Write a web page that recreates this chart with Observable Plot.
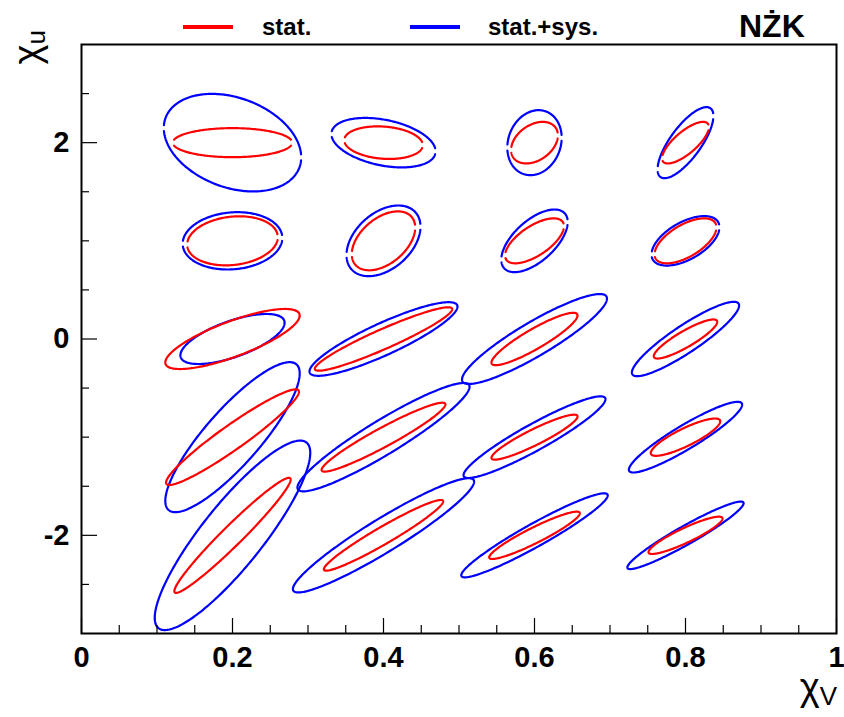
<!DOCTYPE html>
<html><head><meta charset="utf-8">
<script src="https://cdn.jsdelivr.net/npm/d3@7"></script>
<script src="https://cdn.jsdelivr.net/npm/@observablehq/plot@0.6"></script>
<style>
body{margin:0;background:#fff}
#chart{position:relative;width:844px;height:717px}
</style>
</head><body><div id="chart"></div>
<script>
// ---- data ----
const colX = [0.2, 0.4, 0.6, 0.8];          // ellipse centres, chi_V
const rowY = [2, 1, 0, -1, -2];             // ellipse centres, chi_u
// 20 ellipses, rows top->bottom, columns left->right
const statSx  = [0.079,0.052,0.031,0.031, 0.060,0.042,0.039,0.041, 0.089,0.091,0.057,0.042, 0.088,0.082,0.057,0.046, 0.077,0.079,0.060,0.049];
const statSy  = [0.148,0.166,0.212,0.212, 0.250,0.300,0.229,0.229, 0.306,0.323,0.267,0.199, 0.487,0.351,0.229,0.190, 0.586,0.360,0.241,0.190];
const statRho = [0.00,-0.15,0.35,0.75, 0.15,0.45,0.65,0.60, 0.78,0.94,0.90,0.88, 0.95,0.95,0.92,0.85, 0.97,0.96,0.93,0.90];
const sysSx   = [0.091,0.069,0.036,0.037, 0.066,0.049,0.044,0.045, 0.069,0.098,0.096,0.071, 0.089,0.114,0.094,0.075, 0.103,0.120,0.097,0.077];
const sysSy   = [0.497,0.252,0.331,0.362, 0.292,0.360,0.319,0.252, 0.255,0.375,0.458,0.379, 0.764,0.552,0.416,0.360, 0.965,0.582,0.428,0.344];
const sysRho  = [-0.30,-0.35,0.15,0.75, 0.10,0.40,0.60,0.55, 0.65,0.88,0.90,0.90, 0.85,0.93,0.93,0.92, 0.87,0.94,0.95,0.95];
// small breaks in the drawn contour at its left/right ends (1 = broken outline)
const contourBreaks = [1,1,1,1, 1,1,1,1, 0,0,0,0, 0,0,0,0, 0,0,0,0];
const seriesNames = ["stat.", "stat.+sys."];
const seriesColors = ["#ff0000", "#0000ff"];
const xMajorTicks = [0, 0.2, 0.4, 0.6, 0.8, 1];
const xTickLabels = ["0", "0.2", "0.4", "0.6", "0.8", "1"];
const xMinorTicks = [0.05,0.1,0.15,0.25,0.3,0.35,0.45,0.5,0.55,0.65,0.7,0.75,0.85,0.9,0.95];
const yMajorTicks = [-2, 0, 2];
const yTickLabels = ["-2", "0", "2"];
const yMinorTicks = [-2.5,-1.5,-1,-0.5,0.5,1,1.5,2.5];
const plotTitle = "NŻK";

const FONT = "'Liberation Sans', Arial, Helvetica, sans-serif";
const W = 844, H = 717, ML = 81, MR = 8, MT = 44, MB = 84;
const innerH = H - MT - MB, innerW = W - ML - MR;
const pxPerY = innerH / 6;   // y domain spans 6 units
const GAP_PX = 3;

// ---- build ellipse outlines from centre, widths and correlation ----
const N = 240;
const rows = [];
function addEllipse(id, series, cx, cy, sx, sy, rho, broken) {
  const s = Math.sqrt(1 - rho * rho);
  const pt = t => ({series, x: cx + sx * Math.cos(t), y: cy + sy * (rho * Math.cos(t) + s * Math.sin(t))});
  if (!broken) {
    for (let k = 0; k <= N; k++) rows.push({id, ...pt(2 * Math.PI * k / N)});
    return;
  }
  const d = GAP_PX / (sy * s * pxPerY);
  [[d, Math.PI - d], [Math.PI + d, 2 * Math.PI - d]].forEach(([a, b], j) => {
    const n = N / 2;
    for (let k = 0; k <= n; k++) rows.push({id: id + "_" + j, ...pt(a + (b - a) * k / n)});
  });
}
let idx = 0;
rowY.forEach(cy => colX.forEach(cx => {
  addEllipse("sys" + idx, seriesNames[1], cx, cy, sysSx[idx], sysSy[idx], sysRho[idx], contourBreaks[idx]);
  addEllipse("stat" + idx, seriesNames[0], cx, cy, statSx[idx], statSy[idx], statRho[idx], contourBreaks[idx]);
  idx++;
}));

const chart = Plot.plot({
  width: W, height: H,
  marginLeft: ML, marginRight: MR, marginTop: MT, marginBottom: MB,
  style: {fontFamily: FONT, background: "white"},
  x: {domain: [0, 1], axis: null},
  y: {domain: [-3, 3], axis: null},
  color: {domain: seriesNames, range: seriesColors},
  marks: [
    Plot.line(rows, {x: "x", y: "y", z: "id", stroke: "series", strokeWidth: 2.2, curve: "linear"}),
    // inside ticks
    Plot.ruleX(xMajorTicks, {x: d => d, insetTop: innerH - 15, stroke: "black", strokeWidth: 1.2}),
    Plot.ruleX(xMinorTicks, {x: d => d, insetTop: innerH - 8, stroke: "black", strokeWidth: 1.2}),
    Plot.ruleY(yMajorTicks, {y: d => d, insetRight: innerW - 16, stroke: "black", strokeWidth: 1.2}),
    Plot.ruleY(yMinorTicks, {y: d => d, insetRight: innerW - 8, stroke: "black", strokeWidth: 1.2}),
    Plot.frame({stroke: "black", strokeWidth: 2}),
    Plot.text(xMajorTicks, {x: d => d, text: (d, i) => xTickLabels[i], frameAnchor: "bottom", dy: 24,
      lineAnchor: "middle", fontSize: 29, fontWeight: "bold", fill: "black"}),
    Plot.text(yMajorTicks, {y: d => d, text: (d, i) => yTickLabels[i], frameAnchor: "left", dx: -12,
      textAnchor: "end", lineAnchor: "middle", fontSize: 29, fontWeight: "bold", fill: "black"})
  ]
});
document.getElementById("chart").appendChild(chart);

// ---- legend, title and axis titles ----
const svg = d3.select(chart);
const leg = svg.append("g").attr("font-family", FONT).attr("font-weight", "bold").attr("text-anchor", "start");
const legendItems = [{x: 183, tx: 262}, {x: 410, tx: 488}];
seriesNames.forEach((name, i) => {
  leg.append("line").attr("x1", legendItems[i].x).attr("x2", legendItems[i].x + 50)
    .attr("y1", 27).attr("y2", 27).attr("stroke", seriesColors[i]).attr("stroke-width", 4);
  leg.append("text").attr("x", legendItems[i].tx).attr("y", 35).attr("font-size", 24)
    .attr("font-weight", "bold").attr("text-anchor", "start").attr("fill", "black").text(name);
});
leg.append("text").attr("x", 739).attr("y", 37).attr("font-size", 32)
  .attr("font-weight", "bold").attr("text-anchor", "start").attr("fill", "black").text(plotTitle);

const xt = svg.append("text").attr("font-family", FONT).attr("text-anchor", "end")
  .attr("x", 837).attr("y", 700).attr("fill", "black");
xt.append("tspan").attr("font-size", 38).text("χ");
xt.append("tspan").attr("font-size", 26).attr("dy", 5).text("V");

const yt = svg.append("text").attr("font-family", FONT).attr("text-anchor", "end")
  .attr("transform", "translate(40,30) rotate(-90)").attr("fill", "black");
yt.append("tspan").attr("font-size", 38).text("χ");
yt.append("tspan").attr("font-size", 26).attr("dy", 5).text("u");
</script>
</body></html>
